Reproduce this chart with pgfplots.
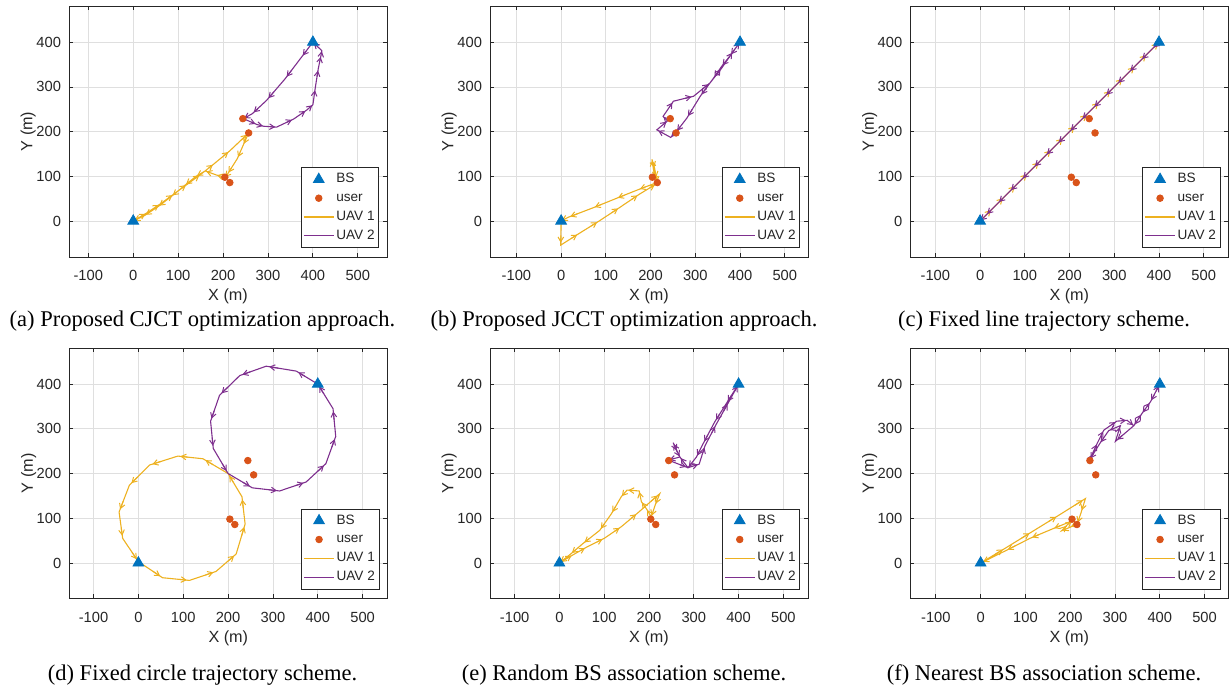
\documentclass[border=0pt]{standalone}
\usepackage{fontspec}
\setmainfont{Liberation Sans}
\newfontfamily\capfont{Liberation Serif}
\usepackage{pgfplots}
\pgfplotsset{compat=1.18}
\usetikzlibrary{arrows.meta,calc,decorations.pathreplacing}

\definecolor{bsblue}{rgb}{0,0.447,0.741}
\definecolor{userred}{rgb}{0.85,0.325,0.098}
\definecolor{uavone}{rgb}{0.929,0.694,0.125}
\definecolor{uavtwo}{rgb}{0.494,0.184,0.556}
\definecolor{axgray}{rgb}{0.15,0.15,0.15}
\definecolor{gridgray}{rgb}{0.875,0.875,0.875}

\newcommand\ticksize{\fontsize{7.35}{8.5}\selectfont}
\newcommand\labsize{\fontsize{8.1}{9.5}\selectfont}
\newcommand\legsize{\fontsize{6.8}{7.6}\selectfont}
\newcommand\capsize{\fontsize{11.25}{13}\selectfont}

\tikzset{
  segarrows/.style={
    postaction={decorate},
    decoration={show path construction,
      lineto code={
        \draw[color=#1, line width=0.5pt, -{Straight Barb[length=2.4pt,width=2.8pt]}]
          ($(\tikzinputsegmentfirst)!0.6!(\tikzinputsegmentlast)$) --
          ($(\tikzinputsegmentfirst)!0.9!(\tikzinputsegmentlast)$);
      }}}
}

\pgfplotsset{
  traj/.style={
    scale only axis, width=159pt,
    xtick={-100,0,100,200,300,400,500},
    ytick={0,100,200,300,400},
    grid=major,
    major grid style={draw=gridgray, line width=0.4pt},
    axis line style={draw=axgray, line width=0.4pt},
    tick style={draw=axgray, line width=0.4pt},
    tick align=inside, major tick length=2pt,
    ticklabel style={font=\ticksize, text=axgray},
    xticklabel style={yshift=-3.2pt},
    yticklabel style={xshift=-0.5pt},
    /pgf/number format/assume math mode=true,
    xlabel={X (m)}, ylabel={Y (m)},
    label style={font=\labsize, text=axgray},
    x label style={at={(axis description cs:0.5,-0.158)}, anchor=center},
    y label style={at={(axis description cs:-0.128,0.5)}, anchor=center},
    legend image code/.code={\draw[mark repeat=2,mark phase=2,##1] plot coordinates {(0pt,0pt) (7.5pt,0pt) (15pt,0pt)};},
    legend cell align=left,
    legend style={at={(1,0)}, anchor=south east, xshift=-4pt, yshift=4.5pt,
      font=\legsize, text=axgray, draw=axgray, line width=0.4pt, fill=white,
      inner xsep=1pt, inner ysep=1.2pt, row sep=0pt,
      nodes={inner xsep=1pt, inner ysep=1.4pt, text height=5pt, text depth=1.6pt}},
  },
}

\newcommand\markersandlegend{%
  \addplot[only marks, mark=triangle*, mark size=3.1pt, color=bsblue] coordinates {(0,0) (400,400)};
  \addlegendentry{BS}
  \addplot[only marks, mark=*, mark size=1.65pt, color=userred] coordinates {(244,229) (257,197) (204,98) (215,86)};
  \addlegendentry{user}
  \addlegendimage{color=uavone, line width=0.55pt, no marks}
  \addlegendentry{UAV 1}
  \addlegendimage{color=uavtwo, line width=0.55pt, no marks}
  \addlegendentry{UAV 2}
}

\begin{document}
\begin{tikzpicture}
\path[use as bounding box] (0,0) rectangle (614.5pt,343pt);

% (a)
\begin{axis}[traj, at={(34.5pt,214.5pt)}, height=125.5pt,
  xmin=-143, xmax=565, ymin=-80.5, ymax=481]
\markersandlegend
\addplot[color=uavone, line width=0.55pt, forget plot, segarrows=uavone] coordinates {
 (0,0) (30,18) (60,38) (90,60) (120,82) (150,104) (180,128) (215,157) (257,197)
 (245,170) (232,140) (210,105) (204,98) (185,103) (160,112) (140,100) (115,80)
 (85,55) (55,32) (25,12) (0,0)};
\addplot[color=uavtwo, line width=0.55pt, forget plot, segarrows=uavtwo] coordinates {
 (400,400) (375,367) (338,318) (297,270) (265,240) (245,229) (275,216) (290,212)
 (319,210) (357,228) (386,248) (400,260) (405,296) (412,341) (418,370) (420,381) (400,400)};
\end{axis}

% (b)
\begin{axis}[traj, at={(245pt,214.5pt)}, height=125.5pt,
  xmin=-159, xmax=552, ymin=-80.5, ymax=481]
\markersandlegend
\addplot[color=uavone, line width=0.55pt, forget plot, segarrows=uavone] coordinates {
 (0,0) (-1,-54) (40,-28) (85,0) (132,31) (175,60) (213,83) (207,112) (203,138)
 (209,118) (213,96) (214,86) (172,70) (122,50) (70,29) (15,8) (0,0)};
\addplot[color=uavtwo, line width=0.55pt, forget plot, segarrows=uavtwo] coordinates {
 (400,400) (378,370) (359,346) (341,320) (311,279) (281,230) (257,199) (245,187)
 (214,204) (238,224) (228,234) (251,268) (296,279) (333,309) (359,342) (385,380) (400,400)};
\end{axis}

% (c)
\begin{axis}[traj, at={(455.15pt,214.5pt)}, height=125.5pt,
  xmin=-156, xmax=555, ymin=-80.5, ymax=481]
\markersandlegend
\addplot[color=uavone, line width=0.55pt, forget plot, segarrows=uavone] coordinates {
 (0,0) (26.7,26.7) (53.3,53.3) (80,80) (106.7,106.7) (133.3,133.3) (160,160)
 (186.7,186.7) (213.3,213.3) (240,240) (266.7,266.7) (293.3,293.3) (320,320)
 (346.7,346.7) (373.3,373.3) (400,400)};
\addplot[color=uavtwo, line width=0.55pt, forget plot, segarrows=uavtwo] coordinates {
 (400,400) (386.7,386.7) (360,360) (333.3,333.3) (306.7,306.7) (280,280)
 (253.3,253.3) (226.7,226.7) (200,200) (173.3,173.3) (146.7,146.7) (120,120)
 (93.3,93.3) (66.7,66.7) (40,40) (13.3,13.3) (0,0)};
\end{axis}

% (d)
\begin{axis}[traj, at={(34.65pt,43.85pt)}, height=125pt,
  xmin=-154, xmax=555, ymin=-79, ymax=480]
\markersandlegend
\addplot[color=uavone, line width=0.55pt, forget plot, segarrows=uavone] coordinates {
 (0,3) (54,-33) (114,-39) (173,-19) (218,20) (238,87) (231,148) (200,200)
 (144,233) (88,239) (25,219) (-20,174) (-43,114) (-35,55) (0,3)};
\addplot[color=uavtwo, line width=0.55pt, forget plot, segarrows=uavtwo] coordinates {
 (400,400) (352,429) (285,440) (226,419) (181,375) (161,317) (167,256) (200,200)
 (254,168) (315,161) (374,181) (418,222) (440,283) (434,345) (400,400)};
\end{axis}

% (e)
\begin{axis}[traj, at={(245pt,43.85pt)}, height=125pt,
  xmin=-155, xmax=555, ymin=-79, ymax=480]
\markersandlegend
\addplot[color=uavone, line width=0.55pt, forget plot, segarrows=uavone] coordinates {
 (0,0) (30,18) (60,35) (100,55) (138,81) (175,112) (224,155) (214,130) (205,103)
 (195,120) (183,137) (178,161) (151,163) (138,148) (116,110) (90,73) (52,43) (25,20) (0,0)};
\addplot[color=uavtwo, line width=0.55pt, forget plot, segarrows=uavtwo] coordinates {
 (400,400) (373,357) (347,316) (321,267) (306,237) (287,213) (269,237) (254,269)
 (262,250) (269,237) (243,230) (287,213) (312,221) (325,262) (350,310) (378,360) (400,400)};
\end{axis}

% (f)
\begin{axis}[traj, at={(455.15pt,43.85pt)}, height=125pt,
  xmin=-157, xmax=553, ymin=-79, ymax=480]
\markersandlegend
\addplot[color=uavone, line width=0.55pt, forget plot, segarrows=uavone] coordinates {
 (0,0) (55,33) (115,70) (175,107) (234,144) (225,115) (216,88) (200,80) (181,72)
 (192,84) (204,94) (160,76) (110,55) (55,27) (0,0)};
\addplot[color=uavtwo, line width=0.55pt, forget plot, segarrows=uavtwo] coordinates {
 (400,400) (379,360) (360,334) (342,307) (301,272) (312,307) (286,296) (266,267)
 (243,230) (249,243) (260,267) (275,297) (304,317) (327,319) (342,307) (360,334)
 (379,360) (400,400)};
\end{axis}

\node[anchor=base, font=\capfont\capsize] at (101.25pt,179.5pt) {(a) Proposed CJCT optimization approach.};
\node[anchor=base, font=\capfont\capsize] at (312pt,179.5pt) {(b) Proposed JCCT optimization approach.};
\node[anchor=base, font=\capfont\capsize] at (522pt,179.5pt) {(c) Fixed line trajectory scheme.};
\node[anchor=base, font=\capfont\capsize] at (101.25pt,3pt) {(d) Fixed circle trajectory scheme.};
\node[anchor=base, font=\capfont\capsize] at (312pt,3pt) {(e) Random BS association scheme.};
\node[anchor=base, font=\capfont\capsize] at (522pt,3pt) {(f) Nearest BS association scheme.};
\end{tikzpicture}
\end{document}
